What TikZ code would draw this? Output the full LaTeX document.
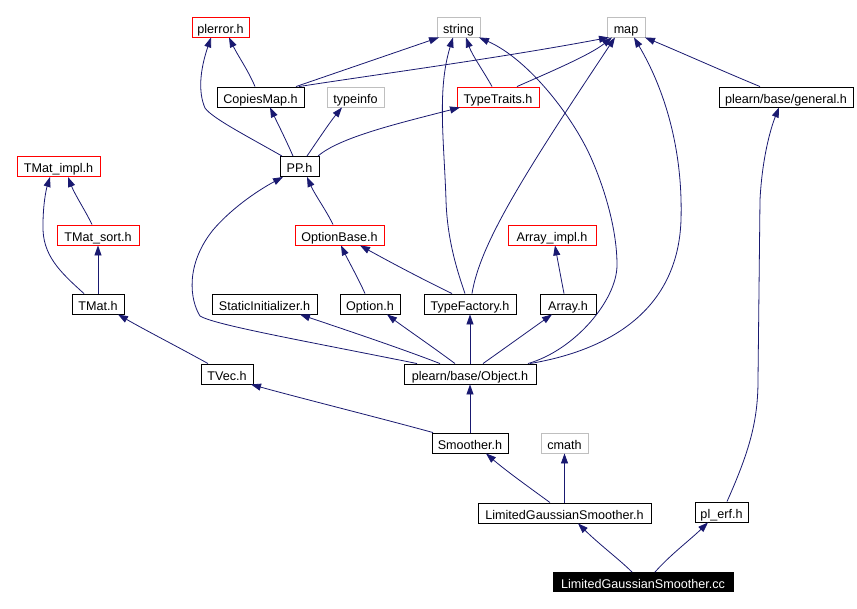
\documentclass[tikz,border=0pt]{standalone}
\usepackage{fontspec}
\setmainfont{Liberation Sans}
\usetikzlibrary{arrows.meta}
\definecolor{edgeblue}{HTML}{191970}
\definecolor{boxgray}{HTML}{BFBFBF}
\definecolor{boxred}{HTML}{FF0000}
\begin{document}
\begin{tikzpicture}[x=1pt,y=-1pt,
  hdr/.style={draw=black, rectangle, minimum height=20pt, inner sep=0pt, line width=0.9pt,
    text height=12.3pt, text depth=0pt, font=\fontsize{12.6}{14}\selectfont},
  sysbox/.style={hdr, draw=boxgray},
  redbox/.style={hdr, draw=boxred},
  mainbox/.style={hdr, fill=black, text=white, minimum height=19pt},
  edge/.style={draw=edgeblue, line width=0.8pt, -{Triangle[length=10pt,width=7pt]}, fill=none}]
\useasboundingbox (0,0) rectangle (857,609);
% nodes
\node[redbox, minimum width=57pt] (pe) at (220.5,27) {plerror.h};
\node[sysbox, minimum width=43pt] (str) at (458.5,27) {string};
\node[sysbox, minimum width=38pt] (mp) at (626,27) {map};
\node[hdr, minimum width=87pt] (cm) at (260.5,97) {CopiesMap.h};
\node[sysbox, minimum width=57pt] (ti) at (355.5,97) {typeinfo};
\node[redbox, minimum width=82pt] (tt) at (498,97) {TypeTraits.h};
\node[hdr, minimum width=134pt] (gen) at (786,97) {plearn/base/general.h};
\node[redbox, minimum width=83pt] (tmi) at (58.5,166.5) {TMat\_impl.h};
\node[hdr, minimum width=39pt] (pp) at (299.5,166.5) {PP.h};
\node[redbox, minimum width=82pt] (tms) at (98,235) {TMat\_sort.h};
\node[redbox, minimum width=89pt] (ob) at (339.5,235) {OptionBase.h};
\node[redbox, minimum width=88pt] (ai) at (552,235) {Array\_impl.h};
\node[hdr, minimum width=52pt] (tm) at (98,304) {TMat.h};
\node[hdr, minimum width=105pt] (si) at (264.5,304) {StaticInitializer.h};
\node[hdr, minimum width=60pt] (op) at (370,304) {Option.h};
\node[hdr, minimum width=92pt] (tf) at (470,304) {TypeFactory.h};
\node[hdr, minimum width=56pt] (ar) at (568,304) {Array.h};
\node[hdr, minimum width=52pt] (tv) at (227,374) {TVec.h};
\node[hdr, minimum width=132pt] (obj) at (470,374) {plearn/base/Object.h};
\node[hdr, minimum width=76pt] (sm) at (470,443) {Smoother.h};
\node[sysbox, minimum width=47pt] (cmath) at (564.5,443) {cmath};
\node[hdr, minimum width=173pt] (lgh) at (564.5,513) {LimitedGaussianSmoother.h};
\node[hdr, minimum width=53pt] (erf) at (721.5,512) {pl\_erf.h};
\node[mainbox, minimum width=180pt] (cc) at (643,582) {LimitedGaussianSmoother.cc};
% edges
\draw[edge] ([xshift=-5.5pt]cm.north) .. controls (248,70) and (238,56) .. ([xshift=8.5pt]pe.south);
\draw[edge] ([xshift=-17.5pt]pp.north) .. controls (245,135) and (212,118) .. (205,108) .. controls (198,92) and (200,70) .. ([xshift=-9.5pt]pe.south);
\draw[edge] ([xshift=-6.5pt]pp.north) .. controls (286,140) and (277,122) .. ([xshift=9.5pt]cm.south);
\draw[edge] ([xshift=7.5pt]pp.north) .. controls (318,140) and (330,122) .. ([xshift=-13.5pt]ti.south);
\draw[edge] ([xshift=18.5pt]pp.north) .. controls (340,137) and (400,123) .. ([xshift=-38pt]tt.south);
\draw[edge] ([xshift=35.5pt]cm.north) -- ([xshift=-19.5pt]str.south);
\draw[edge] ([xshift=38.5pt]cm.north) .. controls (380,74) and (500,58) .. ([xshift=-17pt]mp.south);
\draw[edge] ([xshift=-6pt]tt.north) .. controls (484,72) and (472,55) .. ([xshift=7.5pt]str.south);
\draw[edge] ([xshift=19pt]tt.north) .. controls (550,72) and (590,55) .. ([xshift=-14pt]mp.south);
\draw[edge] ([xshift=-5pt]tf.north) .. controls (455,265) and (447,235) .. (446,200) .. controls (444,140) and (437,90) .. ([xshift=-5.5pt]str.south);
\draw[edge] ([xshift=2pt]tf.north) .. controls (480,245) and (520,180) .. ([xshift=-11pt]mp.south);
\draw[edge] ([xshift=58pt]obj.north) .. controls (575,350) and (617,300) .. (617,265) .. controls (617,230) and (605,190) .. (592,160) .. controls (575,120) and (530,60) .. ([xshift=20.5pt]str.south);
\draw[edge] ([xshift=60pt]obj.north) .. controls (610,350) and (678,310) .. (681,220) .. controls (683,150) and (665,90) .. ([xshift=8pt]mp.south);
\draw[edge] ([xshift=5.5pt]erf.north) .. controls (750,450) and (758,420) .. (758,380) -- (760,200) .. controls (762,160) and (770,130) .. ([xshift=-7pt]gen.south);
\draw[edge] ([xshift=-26pt]gen.north) .. controls (720,70) and (680,52) .. ([xshift=19pt]mp.south);
\draw[edge] ([xshift=-6.5pt]ob.north) .. controls (326,210) and (315,195) .. ([xshift=7.5pt]pp.south);
\draw[edge] ([xshift=-53pt]obj.north) .. controls (300,340) and (215,325) .. (200,316) .. controls (190,300) and (185,265) .. (213,230) .. controls (230,210) and (255,192) .. ([xshift=-16.5pt]pp.south);
\draw[edge] ([xshift=-6pt]tms.north) .. controls (85,210) and (75,195) .. ([xshift=9.5pt]tmi.south);
\draw[edge] ([xshift=-14pt]tm.north) .. controls (60,272) and (42,255) .. (43,225) .. controls (43,205) and (46,190) .. ([xshift=-8.5pt]tmi.south);
\draw[edge] (tm.north) -- (tms.south);
\draw[edge] ([xshift=-19pt]tv.north) .. controls (180,348) and (145,330) .. ([xshift=20pt]tm.south);
\draw[edge] ([xshift=-5pt]op.north) .. controls (358,278) and (348,260) .. ([xshift=1.5pt]ob.south);
\draw[edge] ([xshift=-18pt]tf.north) .. controls (420,278) and (390,262) .. ([xshift=20.5pt]ob.south);
\draw[edge] ([xshift=-4pt]ar.north) .. controls (561,278) and (558,262) .. ([xshift=3pt]ai.south);
\draw[edge] ([xshift=-30pt]obj.north) .. controls (400,348) and (340,328) .. ([xshift=35.5pt]si.south);
\draw[edge] ([xshift=-15pt]obj.north) .. controls (430,345) and (405,328) .. ([xshift=17pt]op.south);
\draw[edge] (obj.north) -- (tf.south);
\draw[edge] ([xshift=13pt]obj.north) .. controls (505,348) and (530,330) .. ([xshift=-16pt]ar.south);
\draw[edge] (sm.north) -- (obj.south);
\draw[edge] ([xshift=-37pt]sm.north) .. controls (380,418) and (300,398) .. ([xshift=24pt]tv.south);
\draw[edge] ([xshift=-14.5pt]lgh.north) .. controls (530,488) and (505,470) .. ([xshift=16pt]sm.south);
\draw[edge] (lgh.north) -- (cmath.south);
\draw[edge] ([xshift=-11pt]cc.north) .. controls (620,560) and (600,545) .. ([xshift=13.5pt]lgh.south);
\draw[edge] ([xshift=12pt]cc.north) .. controls (670,555) and (690,540) .. ([xshift=-13.5pt]erf.south);
\end{tikzpicture}
\end{document}
